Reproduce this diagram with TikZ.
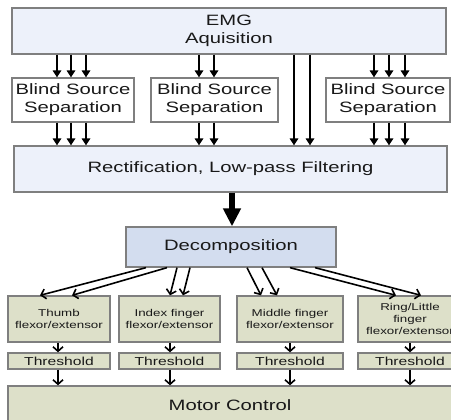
\documentclass[tikz,border=0pt]{standalone}
\usepackage{fontspec}
\setmainfont{Liberation Sans}[FakeStretch=1.35]
\usetikzlibrary{arrows.meta}

\definecolor{boxline}{HTML}{7F7F7F}
\definecolor{emgfill}{HTML}{EDF1FA}
\definecolor{decfill}{HTML}{D3DDEF}
\definecolor{musclefill}{HTML}{DDE0C9}

\begin{document}
\begin{tikzpicture}[x=1pt, y=-1pt,
    block/.style={draw=boxline, line width=1.3pt, inner sep=0pt, align=center, text=black!90},
    bigtext/.style={block, font=\fontsize{15}{18}\selectfont},
    source/.style={bigtext, fill=white, minimum height=44pt},
    muscle/.style={block, fill=musclefill, minimum height=46pt, font=\fontsize{9.9}{12}\selectfont},
    thresh/.style={block, fill=musclefill, minimum height=16pt, font=\fontsize{11.6}{14}\selectfont},
    tip/.style={line width=1.7pt, -{Triangle[length=7pt,width=8.5pt]}},
    barb/.style={line width=1.6pt, -{Straight Barb[length=4.5pt,width=10pt]}},
]
\path[fill=white, use as bounding box] (0,0) rectangle (451,420);

\node[bigtext, fill=emgfill, minimum width=434pt, minimum height=46pt] (emg) at (229,31) {EMG\\Aquisition};
\node[source, minimum width=122pt] (bss1) at (73,100) {Blind Source\\Separation};
\node[source, minimum width=127pt] (bss2) at (214.5,100) {Blind Source\\Separation};
\node[source, minimum width=124pt] (bss3) at (388,100) {Blind Source\\Separation};
\node[bigtext, fill=emgfill, minimum width=433pt, minimum height=46pt] (rect) at (230.5,169) {Rectification, Low-pass Filtering};
\node[bigtext, fill=decfill, minimum width=210pt, minimum height=40pt] (dec) at (231,247) {Decomposition};
\node[bigtext, fill=musclefill, minimum width=444pt, minimum height=38pt] (motor) at (230,405) {Motor Control};

% muscle groups and their thresholds
\foreach \i/\cx/\w/\ax/\txt in {1/59/102/58/{Thumb\\flexor/extensor},
    2/169.5/101/170/{Index finger\\flexor/extensor},
    3/290/106/290/{Middle finger\\flexor/extensor},
    4/410/104/410/{Ring/Little\\finger\\flexor/extensor}} {
  \node[muscle, minimum width=\w pt] (m\i) at (\cx,319) {\txt};
  \node[thresh, minimum width=\w pt] (t\i) at (\cx,361) {Threshold};
  \draw[barb] (\ax,0 |- m\i.south) -- (\ax,0 |- t\i.north);
  \draw[barb] (\ax,0 |- t\i.south) -- (\ax,0 |- motor.north);
}

% channels
\foreach \x in {57,71,86} {
  \draw[tip] (\x,0 |- emg.south) -- (\x,0 |- bss1.north);
  \draw[tip] (\x,0 |- bss1.south) -- (\x,0 |- rect.north);
}
\foreach \x in {199,214} {
  \draw[tip] (\x,0 |- emg.south) -- (\x,0 |- bss2.north);
  \draw[tip] (\x,0 |- bss2.south) -- (\x,0 |- rect.north);
}
\foreach \x in {374,389,405} {
  \draw[tip] (\x,0 |- emg.south) -- (\x,0 |- bss3.north);
  \draw[tip] (\x,0 |- bss3.south) -- (\x,0 |- rect.north);
}
\foreach \x in {294,310}
  \draw[tip] (\x,0 |- emg.south) -- (\x,0 |- rect.north);

\draw[line width=5.5pt, -{Triangle[length=18pt,width=17pt]}] (232,0 |- rect.south) -- (232,0 |- dec.north);

\foreach \s/\e/\i in {146/40/1, 167/72/1, 177/170/2, 190/183/2, 247/261/3, 262/277/3, 290/396/4, 315/421/4}
  \draw[barb] (\s,0 |- dec.south) -- (\e,0 |- m\i.north);
\end{tikzpicture}
\end{document}
